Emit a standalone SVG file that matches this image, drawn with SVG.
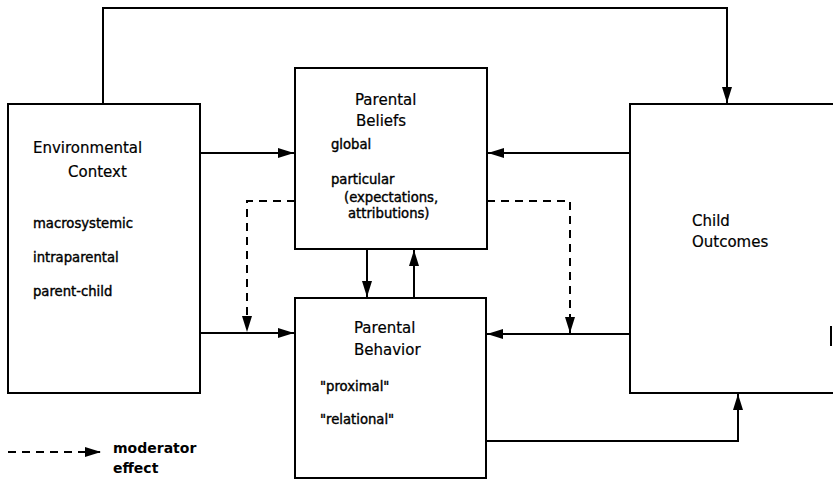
<svg xmlns="http://www.w3.org/2000/svg" width="833" height="479" viewBox="0 0 833 479">
<style>
.box{fill:#fff;stroke:#000;stroke-width:2}
.ln{fill:none;stroke:#000;stroke-width:2}
.dash{fill:none;stroke:#000;stroke-width:2;stroke-dasharray:8 6}
.t{font-family:"DejaVu Sans",sans-serif;font-size:15px;fill:#000;stroke:#000;stroke-width:0.2}
.s{font-family:"DejaVu Sans",sans-serif;font-size:13.2px;fill:#000;stroke:#000;stroke-width:0.4}
.l{font-family:"DejaVu Sans",sans-serif;font-size:14px;font-weight:bold;fill:#000}
</style>
<defs>
<marker id="ah" viewBox="0 0 16 10" refX="16" refY="5" markerWidth="16" markerHeight="10" markerUnits="userSpaceOnUse" orient="auto">
<path d="M0,0 L16,5 L0,10 Z" fill="#000"/>
</marker>
</defs>
<rect width="833" height="479" fill="#fff"/>
<g id="connectors">
<path class="ln" d="M103,104 V8 H727 V103" marker-end="url(#ah)"/>
<path class="ln" d="M200,153 H294" marker-end="url(#ah)"/>
<path class="ln" d="M630,153 H488" marker-end="url(#ah)"/>
<path class="ln" d="M200,333 H294" marker-end="url(#ah)"/>
<path class="ln" d="M630,334 H487" marker-end="url(#ah)"/>
<path class="ln" d="M367,249 V297" marker-end="url(#ah)"/>
<path class="ln" d="M414,298 V250" marker-end="url(#ah)"/>
<path class="ln" d="M487,441 H738 V394" marker-end="url(#ah)"/>
<path class="dash" d="M295,201 H247 V332" marker-end="url(#ah)"/>
<path class="dash" d="M487,201 H570 V333" marker-end="url(#ah)"/>
<path class="dash" d="M8,452 H101" marker-end="url(#ah)"/>
</g>
<g id="environmental-context">
<rect class="box" x="8" y="104" width="192" height="289"/>
<text class="t" x="33" y="153">Environmental</text>
<text class="t" x="68" y="177">Context</text>
<text class="s" x="33" y="228">macrosystemic</text>
<text class="s" x="33" y="262">intraparental</text>
<text class="s" x="33" y="296">parent-child</text>
</g>
<g id="parental-beliefs">
<rect class="box" x="295" y="68" width="192" height="181"/>
<text class="t" x="355" y="105">Parental</text>
<text class="t" x="356" y="126">Beliefs</text>
<text class="s" x="331" y="149">global</text>
<text class="s" x="331" y="184">particular</text>
<text class="s" x="344" y="202">(expectations,</text>
<text class="s" x="348" y="218">attributions)</text>
</g>
<g id="parental-behavior">
<rect class="box" x="295" y="298" width="191" height="180"/>
<text class="t" x="354" y="333">Parental</text>
<text class="t" x="354" y="355">Behavior</text>
<text class="s" x="320" y="391">"proximal"</text>
<text class="s" x="320" y="424">"relational"</text>
</g>
<g id="child-outcomes">
<path class="ln" d="M840,104 H630 V393 H840"/>
<path class="ln" d="M831,326 V346"/>
<text class="t" x="692" y="226">Child</text>
<text class="t" x="692" y="247">Outcomes</text>
</g>
<g id="legend">
<text class="l" x="113" y="453">moderator</text>
<text class="l" x="113" y="473">effect</text>
</g>
</svg>
